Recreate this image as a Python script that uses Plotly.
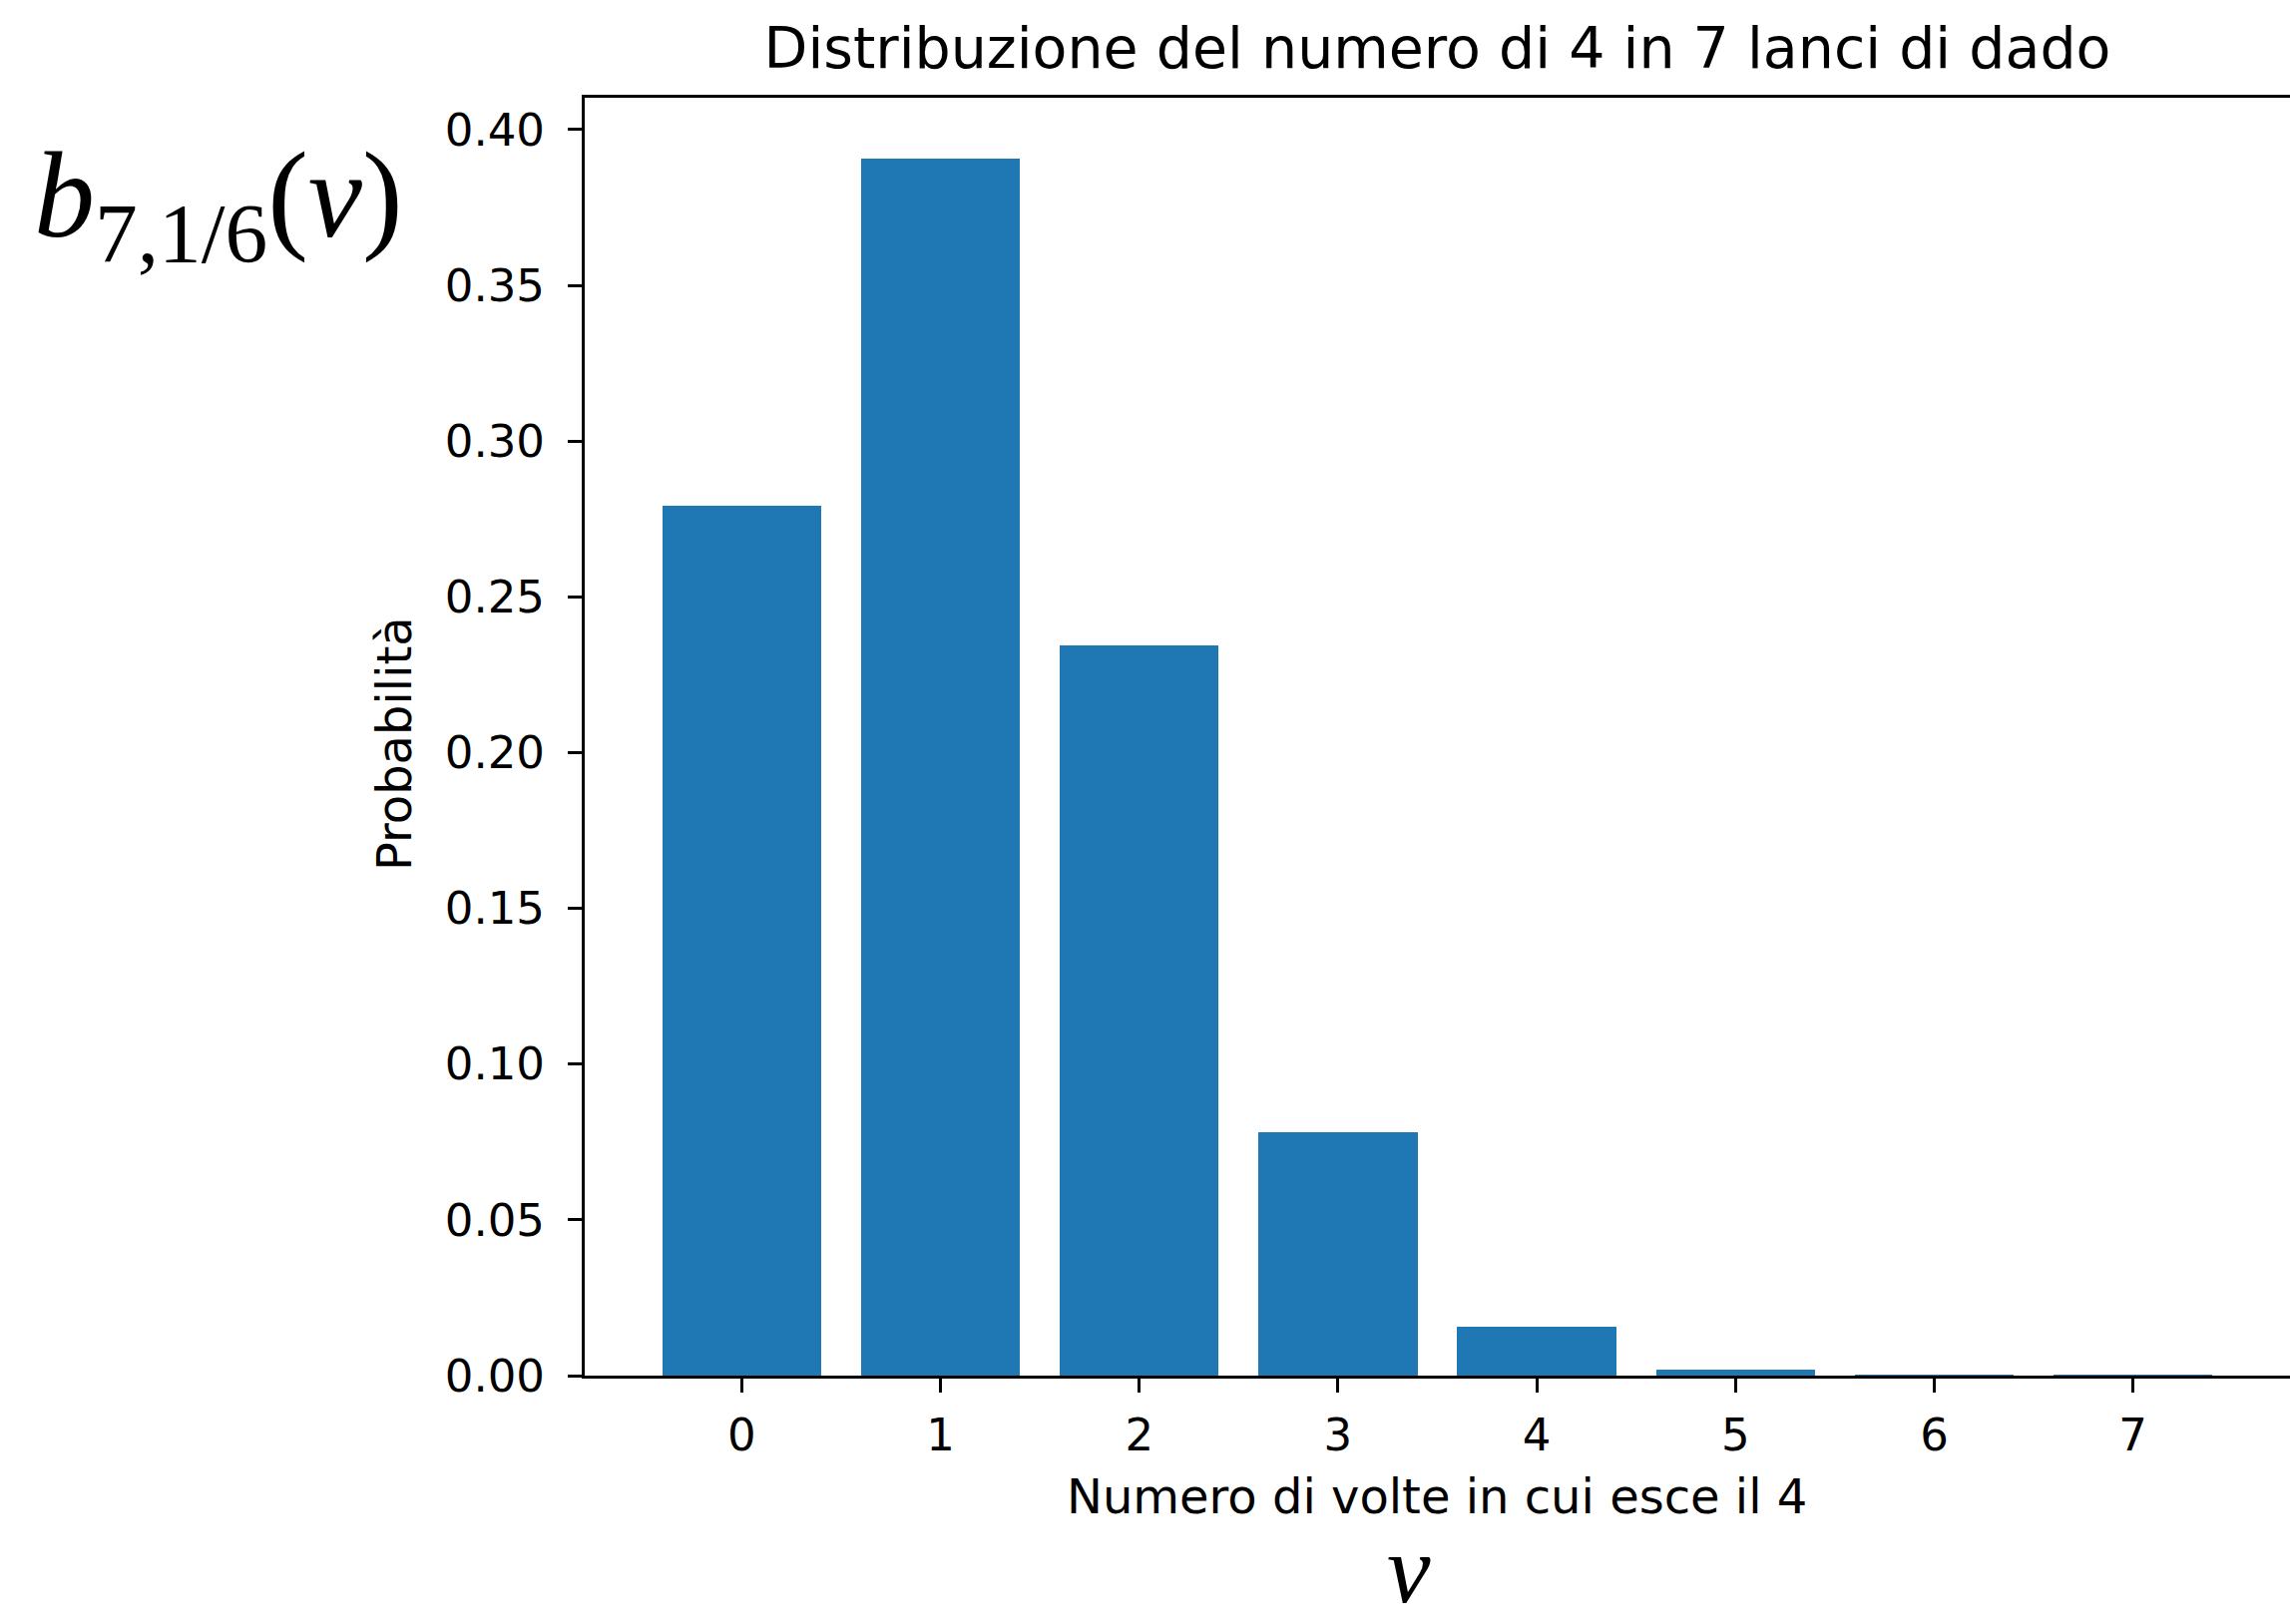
import plotly.graph_objects as go

# Binomial distribution: number of 4s in 7 die rolls (p = 1/6)
outcomes = [0, 1, 2, 3, 4, 5, 6, 7]
probabilities = [0.2791, 0.3907, 0.2344, 0.0781, 0.0156, 0.0019, 0.0001, 0.0000036]
y_ticks = [0.00, 0.05, 0.10, 0.15, 0.20, 0.25, 0.30, 0.35, 0.40]

title_text = "Distribuzione del numero di 4 in 7 lanci di dado"
x_label = "Numero di volte in cui esce il 4"
y_label = "Probabilità"

W, H = 2295, 1628
L, R, T, B = 586, 0, 98, 249
plot_w = W - L - R
plot_h = H - T - B

BAR_BLUE = "#1f77b4"
INK = "#000000"
SANS = "DejaVu Sans"
SERIF = "Liberation Serif"


def px_x(px):
    return (px - L) / plot_w


def px_y(py):
    return (H - B - py) / plot_h


fig = go.Figure(
    go.Bar(
        x=outcomes,
        y=probabilities,
        width=0.8,
        marker=dict(color=BAR_BLUE, line=dict(width=0)),
    )
)

axis_common = dict(
    showgrid=False,
    zeroline=False,
    showline=True,
    linecolor=INK,
    linewidth=3,
    ticks="outside",
    ticklen=14,
    tickwidth=3,
    tickcolor=INK,
    tickfont=dict(family=SANS, size=45, color=INK),
)

fig.update_xaxes(
    **axis_common,
    range=[-0.79, 7.79],
    tickmode="array",
    tickvals=outcomes,
    ticktext=[str(v) for v in outcomes],
    mirror=True,
    ticklabelstandoff=4,
)
fig.update_yaxes(
    **axis_common,
    range=[0, 0.4102],
    tickmode="array",
    tickvals=y_ticks,
    ticktext=[f"{v:.2f}" for v in y_ticks],
    mirror=False,
    ticklabelstandoff=14,
)

annotations = [
    # axis labels
    dict(text=x_label, x=px_x(1440), y=px_y(1500), xref="paper", yref="paper",
         showarrow=False, xanchor="center", yanchor="middle",
         font=dict(family=SANS, size=48, color=INK)),
    dict(text=y_label, x=px_x(395), y=px_y(746), xref="paper", yref="paper",
         showarrow=False, xanchor="center", yanchor="middle", textangle=-90,
         font=dict(family=SANS, size=48, color=INK)),
    # large formula labels
    dict(text="<i>b</i><sub>7,1/6</sub>(<i>ν</i>)", x=px_x(32), y=px_y(205),
         xref="paper", yref="paper", showarrow=False,
         xanchor="left", yanchor="middle",
         font=dict(family=SERIF, size=122, color=INK)),
    dict(text="<i>ν</i>", x=px_x(1412), y=px_y(H), xref="paper", yref="paper",
         showarrow=False, xanchor="center", yanchor="bottom", borderpad=0,
         font=dict(family=SERIF, size=98, color=INK)),
]

fig.update_layout(
    width=W,
    height=H,
    margin=dict(l=L, r=R, t=T, b=B, pad=0),
    paper_bgcolor="white",
    plot_bgcolor="white",
    showlegend=False,
    title=dict(
        text=title_text,
        x=0.5,
        xref="paper",
        y=1 - 48 / H,
        yref="container",
        xanchor="center",
        yanchor="middle",
        font=dict(family=SANS, size=57, color=INK),
    ),
    annotations=annotations,
    bargap=0,
)

fig.write_html("out.html")
